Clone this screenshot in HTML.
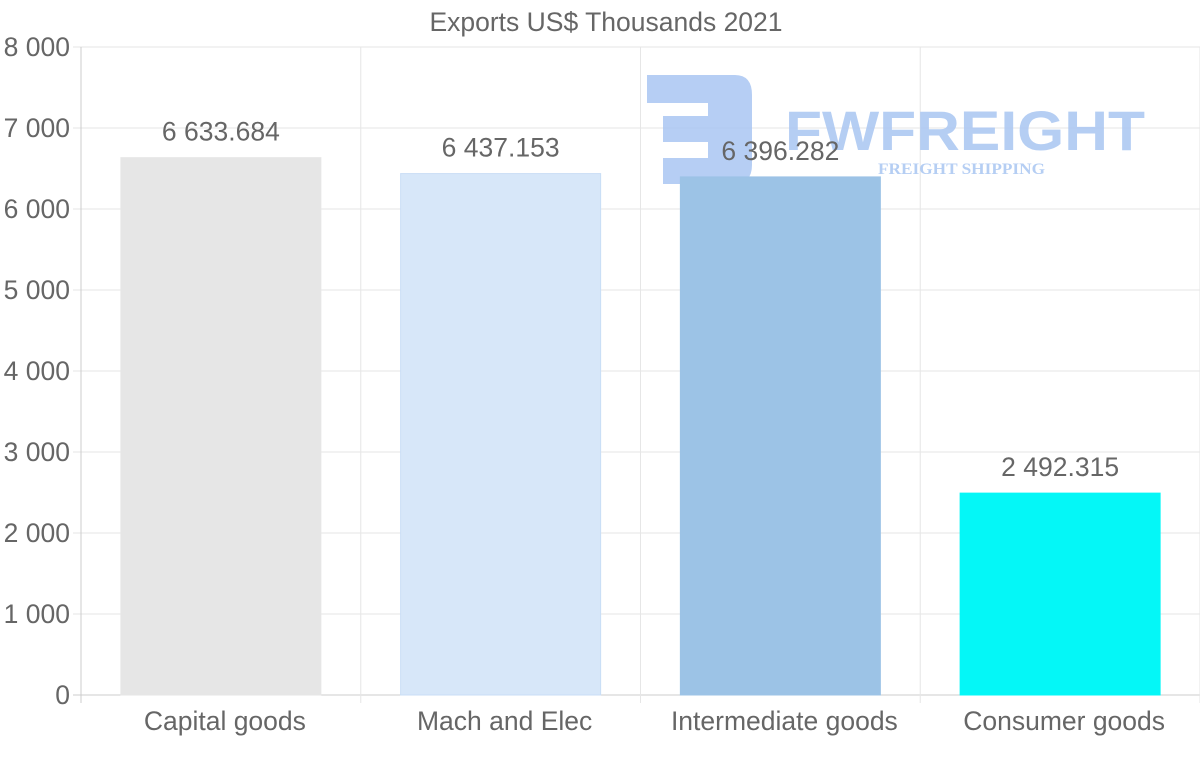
<!DOCTYPE html>
<html><head><meta charset="utf-8"><style>
body{margin:0;background:#fff;font-family:"Liberation Sans",sans-serif;}
svg text{font-family:"Liberation Sans",sans-serif;}
</style></head><body>
<svg id="c" width="1200" height="763">
<text x="606" y="31" text-anchor="middle" font-size="26.5" fill="#666">Exports US$ Thousands 2021</text>
<g id="grid"></g>
<g id="wm" opacity="0.85">
<path d="M647 75 H735 Q752 75 752 95 V165 Q752 184 733 184 H663 V158 H708 V142 H663 V116 H708 V103 H647 Z" fill="#a9c6f2"/>
<text x="785" y="150" font-size="56" font-weight="bold" fill="#a9c6f2" textLength="360" lengthAdjust="spacingAndGlyphs">FWFREIGHT</text>
<text x="878" y="174" font-size="16" font-weight="bold" fill="#a9c6f2" textLength="167" lengthAdjust="spacingAndGlyphs" style="font-family:'Liberation Serif',serif">FREIGHT SHIPPING</text>
</g>
<g id="bars"></g>
</svg>
<script>
const categories=["Capital goods","Mach and Elec","Intermediate goods","Consumer goods"];
const values=[6633.684,6437.153,6396.282,2492.315];
const labels=["6 633.684","6 437.153","6 396.282","2 492.315"];
const yTicks=[0,1000,2000,3000,4000,5000,6000,7000,8000];
const yTickLabels=["0","1 000","2 000","3 000","4 000","5 000","6 000","7 000","8 000"];
const colors=["#e6e6e6","#d7e7f9","#9cc3e6","#04f7f7"];
const NS="http://www.w3.org/2000/svg";
const L=81,R=1200,T=47,B=695,max=8000;
const y=v=>B-(v/max)*(B-T);
const bw=(R-L)/categories.length;
const x=i=>L+bw*i;
function mk(t,a,p){const e=document.createElementNS(NS,t);for(const k in a)e.setAttribute(k,a[k]);p.appendChild(e);return e;}
const g=document.getElementById('grid'),b=document.getElementById('bars');
yTicks.forEach((v,i)=>{
 const ln=mk('line',{x1:L-8,x2:R,y1:y(v),y2:y(v),stroke:i==0?'#ccc':'#e6e6e6'},g);
 
 
 const t=mk('text',{x:70,y:y(v)+9,'text-anchor':'end','font-size':26.5,fill:'#666'},g);
 t.textContent=yTickLabels[i];
 
 
});
for(let i=0;i<=categories.length;i++){
 const ln=mk('line',{x1:x(i),x2:x(i),y1:T,y2:B+8,stroke:i==0?'#ccc':'#e6e6e6'},g);
 
 
}
categories.forEach((c,i)=>{
 const cx=x(i)+bw/2;
 const r=mk('rect',{x:cx-100,y:y(values[i]),width:200,height:B-y(values[i]),fill:colors[i],stroke:i==1?'#c9def6':colors[i]},b);
 
 
 const v=mk('text',{x:cx,y:y(values[i])-17,'text-anchor':'middle','font-size':26.5,fill:'#666'},b);
 v.textContent=labels[i];
 
 
 const t=mk('text',{x:cx+4,y:730,'text-anchor':'middle','font-size':26.5,fill:'#666'},b);
 t.textContent=c;
 
 
});
</script>
</body></html>
